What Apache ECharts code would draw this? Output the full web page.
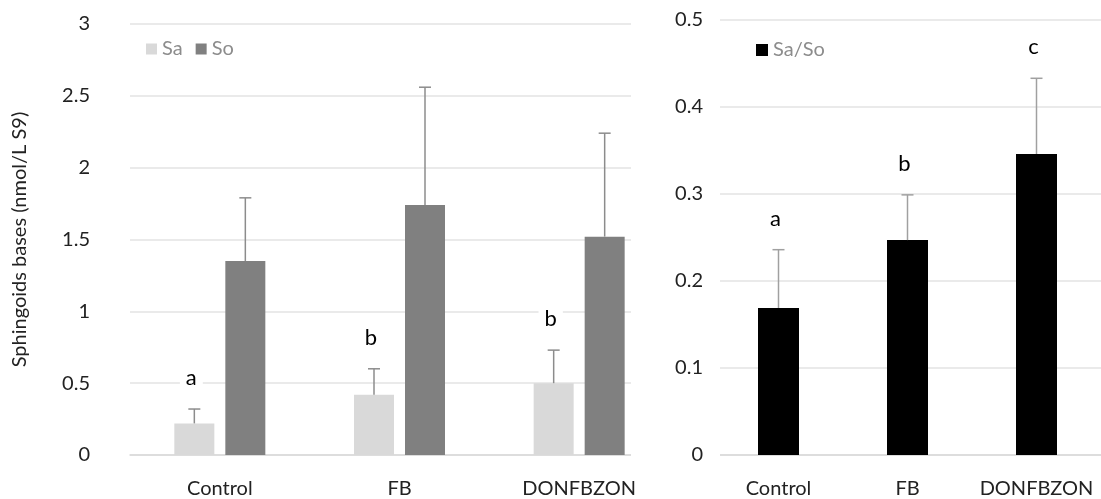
<!DOCTYPE html>
<html>
<head>
<meta charset="utf-8">
<script src="https://cdn.jsdelivr.net/npm/echarts@6/dist/echarts.min.js"></script>
<style>html,body{margin:0;padding:0;background:#fff}#c{width:1101px;height:499px}</style>
</head>
<body>
<div id="c"></div>
<script>
const categories = ['Control', 'FB', 'DONFBZON'];
const saValues = [0.22, 0.42, 0.50];
const saErrors = [0.10, 0.18, 0.23];
const soValues = [1.35, 1.74, 1.52];
const soErrors = [0.44, 0.82, 0.72];
const saLetters = ['a', 'b', 'b'];
const ratioValues = [0.169, 0.247, 0.346];
const ratioErrors = [0.067, 0.052, 0.087];
const ratioLetters = ['a', 'b', 'c'];
const leftTicks = { min: 0, max: 3, interval: 0.5 };
const rightTicks = { min: 0, max: 0.5, interval: 0.1 };

const FONT = 'Lato';
const BAR_W = 40, BAR_GAP = 11;
const chart = echarts.init(document.getElementById('c'));

function errSeries(name, xi, yi, vals, errs, letters, offset, color) {
  return {
    type: 'custom', name: name, xAxisIndex: xi, yAxisIndex: yi, z: 5,
    data: vals.map((v, i) => [i, v, errs[i]]),
    renderItem: function (params, api) {
      const x = api.value(0), v = api.value(1), e = api.value(2);
      const b = api.coord([x, v]);
      const t = api.coord([x, v + e]);
      const cx = b[0] + offset;
      const children = [
        { type: 'line', shape: { x1: cx, y1: b[1], x2: cx, y2: t[1] }, style: { stroke: color, lineWidth: 1.5 } },
        { type: 'line', shape: { x1: cx - 6, y1: t[1], x2: cx + 6, y2: t[1] }, style: { stroke: color, lineWidth: 1.5 } }
      ];
      if (letters && letters[params.dataIndex]) {
        children.push({
          type: 'text', x: cx - 3, y: t[1] - 31,
          style: { text: letters[params.dataIndex], fill: '#000', font: '22px ' + FONT, align: 'center', verticalAlign: 'middle', backgroundColor: '#fff', padding: [2, 6] }
        });
      }
      return { type: 'group', children: children };
    }
  };
}

const axisLabelStyle = { color: '#222', fontFamily: FONT, fontSize: 20 };

chart.setOption({
  animation: false,
  backgroundColor: '#fff',
  textStyle: { fontFamily: FONT },
  grid: [
    { left: 130, top: 24, width: 539, height: 433 },
    { left: 714, top: 20, width: 394, height: 438 }
  ],
  legend: [
    { data: ['Sa', 'So'], left: 141, top: 34, itemWidth: 11, itemHeight: 11, itemGap: 13, icon: 'rect',
      textStyle: { color: '#8c8c8c', fontSize: 20, fontFamily: FONT } },
    { data: ['Sa/So'], left: 751, top: 35, itemWidth: 12, itemHeight: 12, icon: 'rect',
      textStyle: { color: '#8c8c8c', fontSize: 20, fontFamily: FONT } }
  ],
  xAxis: [
    { type: 'category', gridIndex: 0, data: categories, axisTick: { show: false },
      axisLine: { lineStyle: { color: '#d9d9d9', width: 1.5 } }, axisLabel: Object.assign({ margin: 24, interval: 0 }, axisLabelStyle) },
    { type: 'category', gridIndex: 1, data: categories, axisTick: { show: false },
      axisLine: { lineStyle: { color: '#d9d9d9', width: 1.5 } }, axisLabel: Object.assign({ margin: 24, interval: 0 }, axisLabelStyle) }
  ],
  yAxis: [
    { type: 'value', gridIndex: 0, min: leftTicks.min, max: leftTicks.max, interval: leftTicks.interval,
      axisLine: { show: false }, axisTick: { show: false },
      splitLine: { lineStyle: { color: '#e3e3e3', width: 1.5 } },
      axisLabel: Object.assign({ margin: 40 }, axisLabelStyle),
      name: 'Sphingoids bases (nmol/L S9)', nameLocation: 'middle', nameRotate: 90, nameGap: 100,
      nameTextStyle: { color: '#222', fontSize: 20, fontFamily: FONT } },
    { type: 'value', gridIndex: 1, min: rightTicks.min, max: rightTicks.max, interval: rightTicks.interval,
      axisLine: { show: false }, axisTick: { show: false },
      splitLine: { lineStyle: { color: '#e3e3e3', width: 1.5 } },
      axisLabel: Object.assign({ margin: 11 }, axisLabelStyle) }
  ],
  series: [
    { name: 'Sa', type: 'bar', xAxisIndex: 0, yAxisIndex: 0, data: saValues, barWidth: BAR_W, barGap: (BAR_GAP / BAR_W * 100) + '%',
      itemStyle: { color: '#d9d9d9' } },
    { name: 'So', type: 'bar', xAxisIndex: 0, yAxisIndex: 0, data: soValues, barWidth: BAR_W, barGap: (BAR_GAP / BAR_W * 100) + '%',
      itemStyle: { color: '#808080' } },
    { name: 'Sa/So', type: 'bar', xAxisIndex: 1, yAxisIndex: 1, data: ratioValues, barWidth: 41,
      itemStyle: { color: '#000' } },
    errSeries('SaErr', 0, 0, saValues, saErrors, saLetters, -(BAR_W + BAR_GAP) / 2, '#8c8c8c'),
    errSeries('SoErr', 0, 0, soValues, soErrors, null, (BAR_W + BAR_GAP) / 2, '#8c8c8c'),
    errSeries('RatioErr', 1, 1, ratioValues, ratioErrors, ratioLetters, 0, '#a0a0a0')
  ],
  graphic: [
    { type: 'rect', z: 100, shape: { x: 631, y: 10, width: 40, height: 452 }, style: { fill: '#fff' } },
    { type: 'rect', z: 100, shape: { x: 712, y: 10, width: 8, height: 452 }, style: { fill: '#fff' } }
  ]
});
</script>
</body>
</html>
